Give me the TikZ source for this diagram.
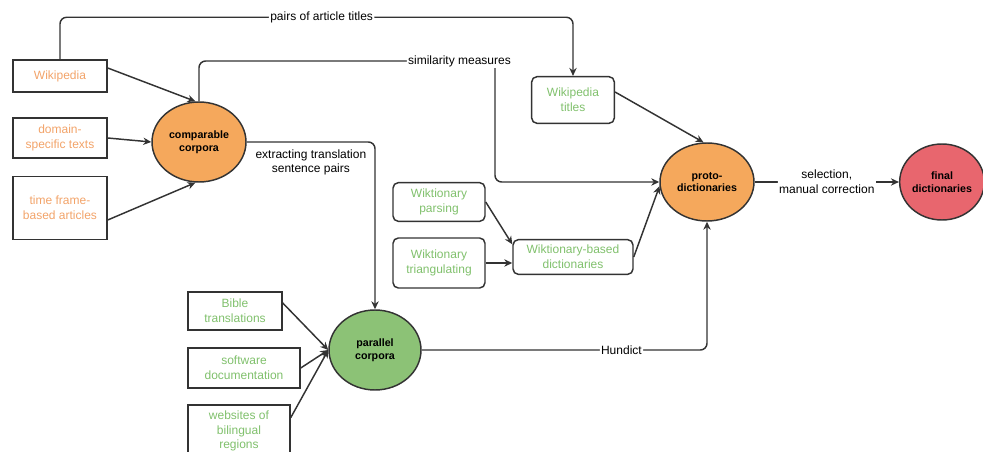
\documentclass[tikz,border=0pt]{standalone}
\usepackage{fontspec}
\setmainfont{Liberation Sans}
\usetikzlibrary{shapes.geometric,arrows.meta}
\definecolor{corpfill}{RGB}{245,168,92}
\definecolor{dictfill}{RGB}{232,102,110}
\definecolor{parfill}{RGB}{140,194,118}
\definecolor{srcorange}{RGB}{242,163,105}
\definecolor{srcgreen}{RGB}{128,192,108}
\definecolor{edgegray}{RGB}{51,51,51}
\begin{document}
\begin{tikzpicture}[x=0.75pt, y=-0.75pt, font=\fontsize{9}{11}\selectfont,
        src/.style={draw=edgegray, line width=1.1pt, align=center, inner sep=1pt},
        wsrc/.style={src, rounded corners=4pt},
        corp/.style={draw=edgegray, line width=1.1pt, ellipse, inner sep=0pt, align=center, font=\fontsize{8}{9.5}\selectfont\bfseries},
        arr/.style={draw=edgegray, line width=1.1pt, rounded corners=5pt, -{Stealth[length=6pt, width=5.5pt]}},
        lbl/.style={fill=white, inner sep=1pt, align=center, text=black}]
        \useasboundingbox (0,0) rectangle (983,452);

        \draw (60,76) node[src, text=srcorange, minimum width=70.5pt, minimum height=24pt] (wiki) {Wikipedia};
        \draw (60,138) node[src, text=srcorange, minimum width=70.5pt, minimum height=30pt] (dom) {domain-\\specific texts};
        \draw (60,208) node[src, text=srcorange, minimum width=70.5pt, minimum height=47pt] (time) {time frame-\\based articles};
        \draw (199,142) node[corp, fill=corpfill, minimum width=70.5pt, minimum height=60pt] (comp) {comparable\\corpora};

        \draw (573,100) node[wsrc, text=srcgreen, minimum width=62pt, minimum height=35pt] (wtitle) {Wikipedia\\titles};
        \draw (439,202) node[wsrc, text=srcgreen, minimum width=69pt, minimum height=29pt] (wparse) {Wiktionary\\parsing};
        \draw (439,263) node[wsrc, text=srcgreen, minimum width=69pt, minimum height=37.5pt] (wtri) {Wiktionary\\triangulating};
        \draw (573,257) node[wsrc, text=srcgreen, minimum width=90pt, minimum height=26pt] (wbased) {Wiktionary-based\\dictionaries};

        \draw (235,311) node[src, text=srcgreen, minimum width=70.5pt, minimum height=28.5pt] (bible) {Bible\\translations};
        \draw (244,368) node[src, text=srcgreen, minimum width=84pt, minimum height=30pt] (soft) {software\\documentation};
        \draw (239,431) node[src, text=srcgreen, minimum width=76.5pt, minimum height=39pt] (web) {websites of\\bilingual\\regions};
        \draw (375,350) node[corp, fill=parfill, minimum width=69pt, minimum height=60pt] (par) {parallel\\corpora};

        \draw (707,182) node[corp, fill=corpfill, minimum width=70.5pt, minimum height=58.5pt] (proto) {proto-\\dictionaries};
        \draw (942,182) node[corp, fill=dictfill, minimum width=60pt, minimum height=57pt] (fin) {final\\dictionaries};

        \draw[arr] ([yshift=6pt]wiki.east) -- (comp.95);
        \draw[arr] (dom.east) -- (comp.west);
        \draw[arr] ([yshift=-9pt]time.east) -- (comp.265);

        \draw[arr] (wiki.north) -- ++(0,-42) -| (wtitle.north) node[lbl, pos=0.255] {pairs of article titles};
        \draw[arr] (comp.north) |- (495,61) node[lbl, pos=0.94] {similarity measures} |- (proto.west);
        \draw[arr] (comp.east) -| (par.north) node[lbl, below=4pt, pos=0.25] {extracting translation\\sentence pairs};

        \draw[arr] ([yshift=6pt]wtitle.east) -- (proto.95);
        \draw[arr] (wparse.east) -- ([yshift=-4pt]wbased.north west);
        \draw[arr] (wtri.east) -- (wtri.east -| wbased.west);
        \draw[arr] (wbased.east) -- (proto.185);

        \draw[arr] ([yshift=6pt]bible.east) -- (par.west);
        \draw[arr] (soft.east) -- (par.west);
        \draw[arr] ([yshift=10pt]web.east) -- (par.west);

        \draw[arr] (par.east) -| (proto.south) node[lbl, pos=0.35] {Hundict};
        \draw[arr] (proto.east) -- (fin.west) node[lbl, midway] {selection,\\manual correction};
    \end{tikzpicture}
\end{document}
